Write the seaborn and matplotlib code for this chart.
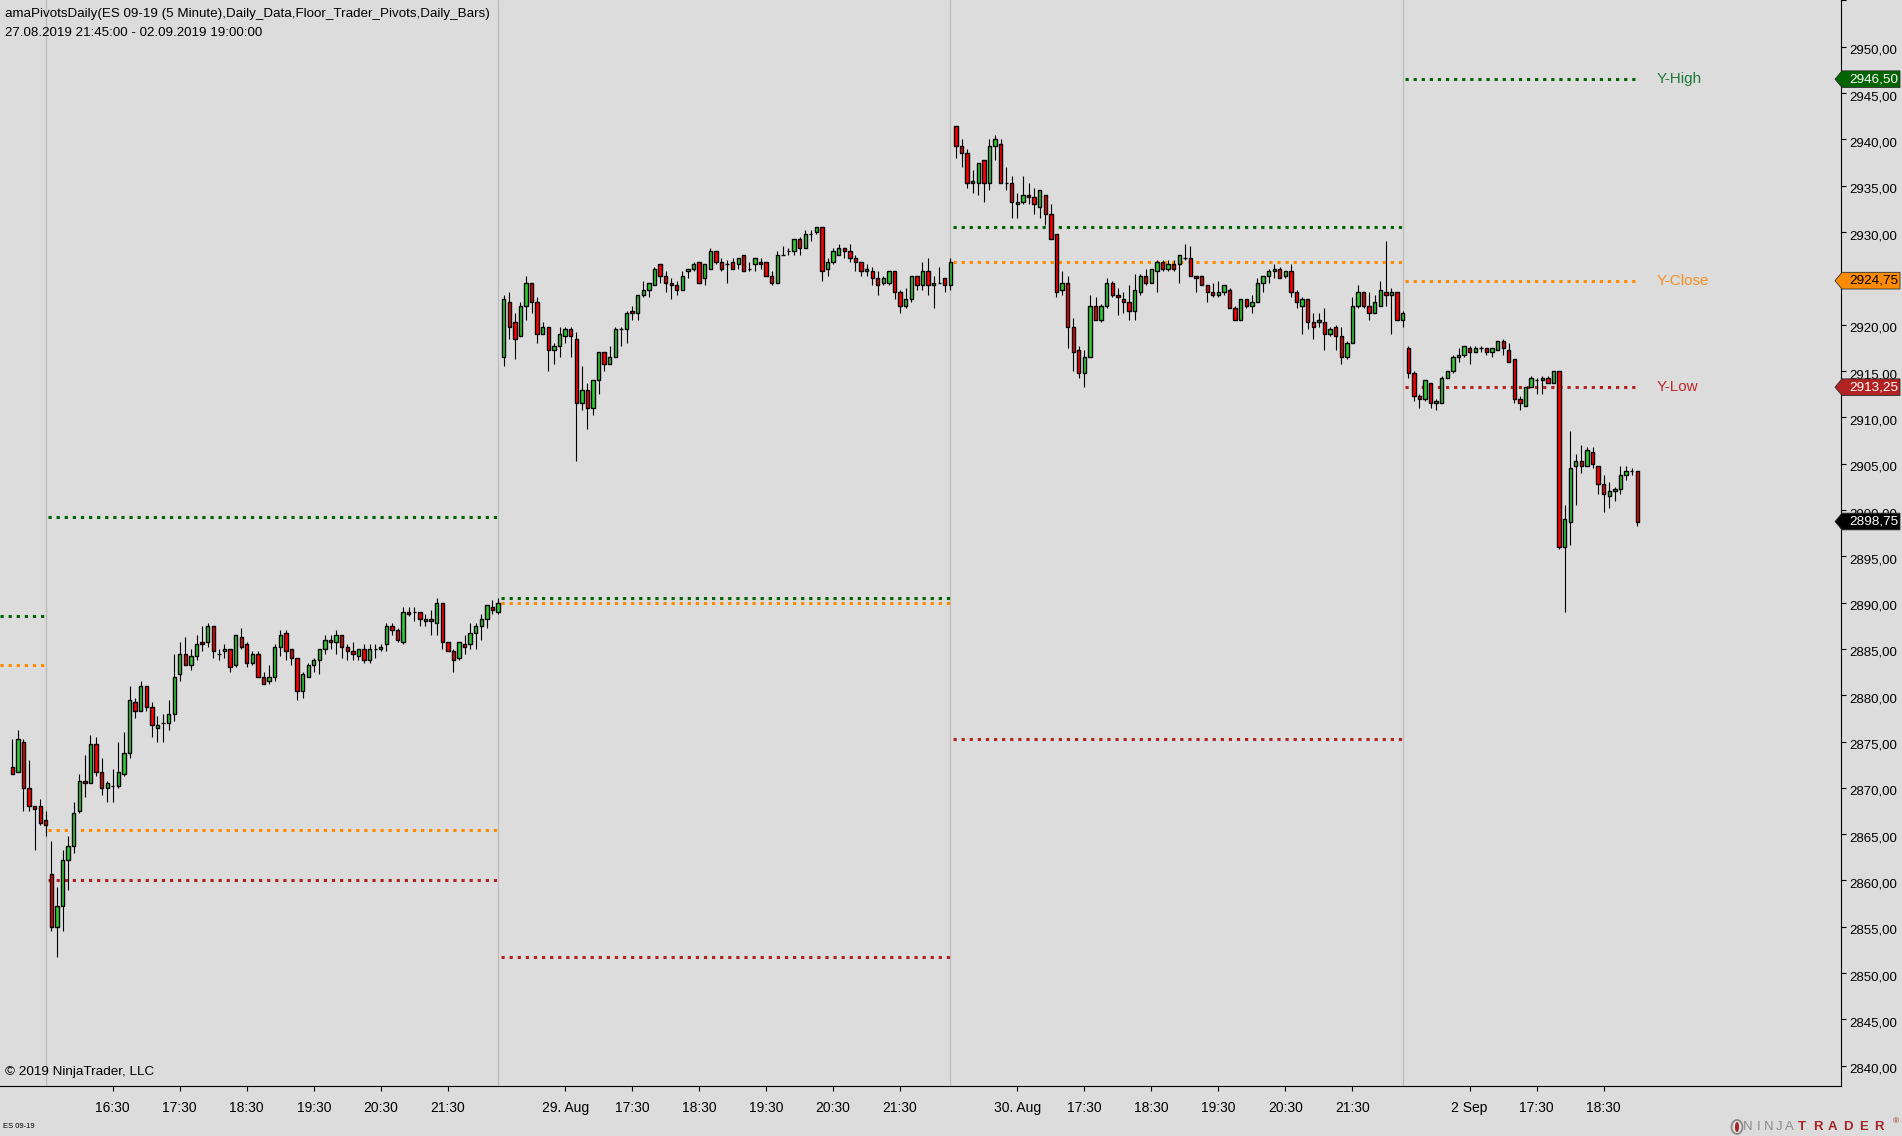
import numpy as np
import pandas as pd
import matplotlib
matplotlib.use("Agg")
import matplotlib.pyplot as plt
import seaborn as sns
from matplotlib import transforms as mtransforms
from matplotlib.patches import Polygon, Ellipse

# ---------------- DATA (ES 09-19, 5 minute bars) ----------------
session_starts = ["2019-08-27 21:45", "2019-08-28 15:35", "2019-08-29 15:35",
                  "2019-08-30 15:35", "2019-09-02 15:35"]

aug27_open  = [2872.25, 2871.75, 2875.0, 2870.0, 2868.0, 2868.0, 2866.5]
aug27_high  = [2875.25, 2876.25, 2875.25, 2873.0, 2868.0, 2868.75, 2867.5]
aug27_low   = [2871.5, 2871.75, 2867.5, 2867.5, 2863.25, 2866.0, 2864.75]
aug27_close = [2871.5, 2875.25, 2870.0, 2868.0, 2867.75, 2866.25, 2866.0]

aug28_open = [2860.75, 2855.0, 2857.25, 2862.25, 2863.75, 2867.5, 2870.75, 2870.5, 2874.75, 2871.75,
              2870.0, 2870.25, 2870.25, 2871.5, 2873.75, 2879.25, 2878.25, 2881.0, 2878.75, 2876.5,
              2877.0, 2877.0, 2878.0, 2882.25, 2884.5, 2883.25, 2884.25, 2885.75, 2885.75, 2887.5,
              2884.5, 2884.75, 2885.0, 2883.25, 2886.25, 2885.5, 2883.5, 2884.5, 2882.0, 2881.5,
              2882.0, 2885.25, 2886.75, 2885.0, 2884.0, 2880.5, 2882.0, 2883.25, 2883.75, 2885.0,
              2886.0, 2885.75, 2886.5, 2885.25, 2884.75, 2884.25, 2885.0, 2883.75, 2885.0, 2885.0,
              2885.5, 2887.5, 2887.0, 2885.75, 2889.0, 2889.0, 2889.0, 2888.0, 2888.25, 2887.75,
              2890.0, 2885.75, 2884.75, 2884.0, 2885.5, 2885.5, 2886.75, 2887.5, 2888.25, 2889.5,
              2889.0]
aug28_high = [2864.25, 2859.25, 2863.25, 2864.75, 2868.5, 2871.5, 2873.5, 2875.75, 2875.5, 2873.25,
              2870.75, 2872.0, 2875.0, 2876.0, 2881.0, 2879.75, 2881.5, 2881.0, 2879.25, 2877.75,
              2878.0, 2879.5, 2884.5, 2885.75, 2886.25, 2885.0, 2886.5, 2887.5, 2887.75, 2887.5,
              2885.0, 2885.5, 2885.0, 2886.5, 2887.25, 2885.75, 2884.75, 2884.75, 2882.5, 2883.25,
              2885.5, 2887.0, 2887.0, 2885.0, 2884.0, 2882.5, 2883.5, 2884.0, 2885.0, 2886.5,
              2886.5, 2887.0, 2886.5, 2885.5, 2885.75, 2885.0, 2885.5, 2885.5, 2885.5, 2885.5,
              2887.75, 2887.75, 2887.25, 2889.5, 2889.5, 2889.5, 2889.0, 2888.75, 2889.25, 2890.5,
              2890.0, 2885.75, 2885.0, 2885.75, 2886.5, 2887.75, 2887.75, 2888.75, 2889.75, 2890.25,
              2890.5]
aug28_low = [2854.5, 2851.75, 2854.5, 2859.0, 2863.0, 2867.25, 2869.0, 2870.5, 2871.25, 2869.25,
             2868.5, 2868.5, 2870.0, 2871.25, 2873.25, 2877.5, 2878.25, 2878.25, 2875.5, 2875.0,
             2875.0, 2876.25, 2877.25, 2881.5, 2883.25, 2882.75, 2883.75, 2884.75, 2885.25, 2884.0,
             2883.75, 2884.0, 2882.5, 2883.0, 2885.0, 2883.0, 2883.25, 2882.0, 2881.25, 2881.25,
             2881.5, 2884.25, 2883.75, 2883.25, 2879.5, 2879.75, 2882.0, 2882.5, 2882.25, 2884.5,
             2885.0, 2884.5, 2884.0, 2883.75, 2883.75, 2883.75, 2883.5, 2883.5, 2884.0, 2884.75,
             2884.75, 2886.5, 2885.75, 2885.5, 2888.5, 2888.0, 2887.5, 2887.5, 2886.5, 2886.5,
             2885.0, 2884.75, 2882.5, 2883.75, 2884.5, 2885.0, 2885.0, 2886.0, 2887.25, 2888.75,
             2888.75]
aug28_close = [2855.0, 2857.25, 2862.25, 2863.75, 2867.25, 2870.75, 2870.5, 2874.75, 2871.75, 2870.0,
               2870.5, 2870.25, 2871.75, 2873.75, 2879.5, 2878.25, 2881.0, 2878.75, 2876.75, 2876.75,
               2877.0, 2878.0, 2882.0, 2884.5, 2883.25, 2884.25, 2885.5, 2885.5, 2887.5, 2884.75,
               2884.5, 2885.0, 2883.0, 2886.5, 2885.25, 2883.5, 2884.5, 2882.0, 2881.25, 2882.0,
               2885.25, 2886.5, 2884.75, 2884.0, 2880.5, 2882.25, 2883.25, 2883.75, 2885.0, 2886.0,
               2885.75, 2886.5, 2885.25, 2884.75, 2884.5, 2885.0, 2883.75, 2885.0, 2885.0, 2885.25,
               2887.5, 2887.0, 2886.0, 2889.0, 2888.75, 2889.0, 2888.25, 2888.25, 2888.0, 2890.0,
               2885.75, 2884.75, 2883.75, 2885.75, 2885.25, 2886.75, 2887.5, 2888.25, 2889.75, 2889.25,
               2890.0]

aug29_open = [2916.5, 2922.5, 2920.25, 2918.75, 2922.0, 2924.5, 2922.5, 2919.0, 2919.75, 2917.25,
              2917.75, 2918.75, 2919.5, 2918.5, 2911.5, 2913.0, 2911.0, 2914.0, 2917.0, 2915.75,
              2916.5, 2919.5, 2919.5, 2921.5, 2921.25, 2923.25, 2923.75, 2924.25, 2926.5, 2925.25,
              2924.5, 2924.25, 2923.75, 2925.75, 2926.0, 2926.75, 2925.0, 2926.0, 2928.0, 2926.75,
              2926.5, 2926.75, 2926.5, 2927.5, 2926.0, 2926.5, 2926.75, 2926.75, 2925.25, 2924.5,
              2927.5, 2928.0, 2928.0, 2929.25, 2928.25, 2929.75, 2930.0, 2930.5, 2926.0, 2926.75,
              2927.5, 2928.25, 2928.0, 2927.25, 2926.75, 2925.75, 2925.75, 2925.0, 2924.5, 2924.5,
              2925.75, 2923.5, 2922.0, 2922.75, 2925.25, 2924.25, 2925.75, 2924.25, 2924.5, 2925.0,
              2924.25]
aug29_high = [2923.25, 2923.5, 2921.25, 2922.5, 2925.25, 2924.5, 2923.0, 2920.25, 2919.75, 2918.0,
              2919.75, 2919.75, 2919.75, 2919.25, 2915.5, 2913.75, 2914.0, 2917.0, 2917.0, 2917.75,
              2919.75, 2919.75, 2921.5, 2922.0, 2923.25, 2924.75, 2924.5, 2926.25, 2926.5, 2925.75,
              2925.0, 2924.75, 2925.75, 2926.0, 2926.75, 2926.75, 2926.5, 2928.25, 2928.0, 2927.25,
              2927.0, 2927.25, 2927.25, 2927.5, 2926.75, 2927.25, 2927.25, 2926.75, 2925.75, 2928.0,
              2928.5, 2928.25, 2929.25, 2929.5, 2930.25, 2930.25, 2930.5, 2930.5, 2927.25, 2928.25,
              2928.75, 2928.25, 2928.75, 2927.5, 2926.75, 2926.5, 2926.25, 2925.75, 2925.25, 2925.75,
              2925.75, 2923.75, 2924.0, 2925.25, 2925.25, 2926.75, 2927.25, 2925.25, 2926.25, 2925.0,
              2927.25]
aug29_low = [2915.5, 2918.5, 2916.25, 2918.75, 2920.5, 2921.25, 2918.0, 2919.0, 2915.0, 2915.75,
             2916.5, 2918.0, 2916.5, 2905.25, 2910.75, 2908.75, 2910.25, 2912.5, 2915.0, 2915.75,
             2916.5, 2917.75, 2918.0, 2920.5, 2920.5, 2923.0, 2923.0, 2924.25, 2924.5, 2923.5,
             2922.75, 2923.25, 2923.75, 2925.0, 2925.75, 2924.5, 2924.25, 2926.0, 2926.5, 2925.75,
             2924.5, 2926.0, 2926.0, 2925.75, 2925.75, 2925.75, 2926.0, 2925.25, 2924.25, 2924.5,
             2927.5, 2927.5, 2927.5, 2927.5, 2928.25, 2929.0, 2929.75, 2924.75, 2925.25, 2926.5,
             2927.5, 2927.25, 2926.75, 2925.75, 2925.25, 2925.25, 2924.25, 2923.25, 2924.25, 2924.25,
             2922.75, 2921.25, 2921.75, 2922.5, 2923.75, 2923.75, 2923.25, 2921.75, 2924.5, 2923.5,
             2923.75]
aug29_close = [2922.75, 2919.75, 2918.5, 2922.0, 2924.5, 2922.5, 2919.0, 2919.75, 2917.25, 2917.75,
               2919.0, 2919.5, 2918.75, 2911.5, 2913.0, 2911.0, 2914.0, 2917.0, 2915.75, 2916.5,
               2919.5, 2919.5, 2921.25, 2921.25, 2923.25, 2923.75, 2924.5, 2926.0, 2925.25, 2924.5,
               2924.25, 2923.75, 2925.25, 2926.0, 2926.5, 2924.5, 2926.5, 2928.0, 2926.75, 2926.0,
               2926.5, 2926.0, 2927.25, 2925.75, 2926.0, 2927.25, 2926.5, 2925.25, 2924.5, 2927.5,
               2927.5, 2928.0, 2929.25, 2928.25, 2929.75, 2929.75, 2930.5, 2925.75, 2926.75, 2928.0,
               2928.25, 2928.0, 2927.25, 2926.75, 2925.75, 2926.0, 2925.0, 2924.25, 2925.0, 2925.75,
               2923.5, 2922.0, 2922.75, 2925.25, 2924.25, 2925.75, 2924.25, 2924.5, 2924.5, 2924.25,
               2926.75]

aug30_open = [2941.5, 2939.25, 2938.5, 2935.25, 2935.25, 2937.75, 2935.25, 2939.25, 2939.5, 2935.25,
              2935.25, 2933.0, 2933.25, 2934.0, 2933.75, 2932.75, 2934.0, 2932.0, 2929.75, 2923.75,
              2924.5, 2919.75, 2917.25, 2914.75, 2916.5, 2922.0, 2920.5, 2922.0, 2924.5, 2923.25,
              2922.75, 2922.5, 2921.5, 2923.5, 2925.25, 2924.5, 2925.75, 2926.75, 2926.0, 2926.5,
              2926.5, 2927.25, 2927.25, 2925.25, 2925.25, 2924.25, 2923.5, 2923.25, 2923.5, 2923.75,
              2921.75, 2920.5, 2922.75, 2922.0, 2922.5, 2924.5, 2925.25, 2925.75, 2926.0, 2925.25,
              2925.75, 2923.5, 2922.0, 2922.75, 2920.25, 2920.25, 2920.25, 2919.0, 2919.75, 2918.75,
              2916.5, 2918.0, 2922.0, 2923.5, 2922.0, 2921.25, 2922.0, 2923.5, 2923.25, 2923.5,
              2920.5]
aug30_high = [2941.5, 2940.0, 2939.0, 2936.75, 2937.5, 2937.75, 2940.0, 2940.5, 2940.0, 2937.0,
              2936.0, 2934.25, 2936.0, 2935.25, 2934.75, 2934.5, 2934.0, 2933.0, 2929.75, 2925.75,
              2925.25, 2920.75, 2917.75, 2917.25, 2923.25, 2923.0, 2922.25, 2925.0, 2924.75, 2924.0,
              2923.5, 2924.25, 2925.5, 2925.5, 2926.0, 2926.0, 2927.0, 2927.0, 2927.0, 2927.0,
              2927.5, 2928.75, 2928.5, 2925.25, 2925.25, 2924.25, 2924.5, 2924.75, 2924.25, 2924.0,
              2922.0, 2922.75, 2922.75, 2923.25, 2925.0, 2925.25, 2926.0, 2926.5, 2926.25, 2925.75,
              2926.5, 2923.75, 2923.0, 2922.75, 2921.25, 2921.25, 2921.75, 2919.75, 2920.0, 2919.75,
              2918.25, 2923.0, 2924.25, 2923.5, 2923.5, 2923.25, 2924.75, 2929.0, 2924.0, 2923.5,
              2921.5]
aug30_low = [2938.0, 2937.0, 2934.75, 2934.25, 2934.0, 2933.25, 2934.5, 2937.75, 2935.25, 2934.5,
             2931.5, 2931.5, 2933.0, 2933.0, 2932.0, 2931.5, 2930.75, 2929.25, 2923.0, 2923.25,
             2917.5, 2915.0, 2914.25, 2913.25, 2916.5, 2920.5, 2920.25, 2921.75, 2923.0, 2921.0,
             2921.25, 2920.5, 2920.5, 2923.25, 2924.25, 2924.5, 2923.5, 2925.75, 2925.75, 2925.75,
             2924.5, 2927.0, 2925.25, 2923.5, 2924.25, 2922.5, 2923.0, 2923.0, 2923.25, 2921.75,
             2920.5, 2920.5, 2921.75, 2921.25, 2922.5, 2923.5, 2924.5, 2925.0, 2925.0, 2925.0,
             2923.0, 2921.75, 2919.0, 2919.5, 2918.5, 2919.75, 2917.25, 2918.75, 2917.25, 2915.75,
             2916.25, 2918.0, 2921.75, 2921.75, 2920.5, 2921.25, 2922.0, 2922.0, 2919.0, 2920.5,
             2919.75]
aug30_close = [2939.25, 2938.5, 2935.25, 2935.5, 2937.5, 2935.25, 2939.25, 2940.0, 2935.25, 2935.25,
               2933.25, 2933.25, 2934.0, 2933.75, 2933.0, 2934.5, 2932.0, 2929.25, 2923.5, 2924.5,
               2919.75, 2917.0, 2914.75, 2916.5, 2922.0, 2920.5, 2922.0, 2924.5, 2923.25, 2923.0,
               2922.5, 2921.5, 2923.75, 2925.25, 2924.5, 2926.0, 2926.75, 2926.0, 2926.5, 2926.0,
               2927.5, 2927.25, 2925.25, 2925.0, 2924.25, 2923.5, 2923.25, 2923.5, 2924.25, 2921.75,
               2920.5, 2922.75, 2922.0, 2922.5, 2924.5, 2925.25, 2925.75, 2926.0, 2925.0, 2925.75,
               2923.5, 2922.5, 2922.75, 2920.25, 2919.75, 2920.5, 2919.0, 2919.5, 2918.75, 2916.5,
               2918.0, 2922.0, 2923.5, 2922.0, 2921.25, 2922.5, 2923.75, 2923.25, 2923.5, 2920.5,
               2921.25]

sep02_open = [2917.5, 2914.75, 2912.25, 2912.0, 2913.75, 2911.5, 2911.5, 2914.25, 2915.0, 2916.5,
              2916.75, 2917.5, 2917.0, 2917.5, 2917.5, 2917.0, 2917.25, 2918.25, 2917.25, 2916.25,
              2912.0, 2911.25, 2913.25, 2914.0, 2914.0, 2914.25, 2913.75, 2915.0, 2896.0, 2898.75,
              2904.75, 2905.25, 2904.75, 2906.25, 2904.75, 2902.75, 2901.5, 2902.0, 2902.25, 2903.75,
              2904.25, 2904.25]
sep02_high = [2917.75, 2915.0, 2912.5, 2914.0, 2913.75, 2912.0, 2914.5, 2915.0, 2916.75, 2917.5,
              2917.75, 2917.75, 2917.75, 2917.75, 2917.5, 2917.5, 2918.25, 2918.5, 2918.0, 2916.25,
              2912.25, 2913.25, 2914.5, 2914.25, 2914.5, 2914.5, 2915.0, 2915.0, 2900.5, 2908.5,
              2906.0, 2907.0, 2906.75, 2906.75, 2904.75, 2903.75, 2903.0, 2902.5, 2904.75, 2904.75,
              2904.5, 2904.25]
sep02_low = [2914.25, 2911.75, 2911.0, 2911.75, 2911.0, 2910.75, 2911.5, 2914.25, 2914.75, 2916.0,
             2916.5, 2915.75, 2917.0, 2917.0, 2916.75, 2916.5, 2917.25, 2916.75, 2916.0, 2911.5,
             2910.75, 2911.25, 2913.25, 2912.5, 2912.5, 2913.75, 2913.75, 2895.75, 2889.0, 2896.25,
             2900.5, 2904.0, 2904.75, 2904.5, 2901.75, 2899.75, 2900.25, 2901.0, 2901.75, 2903.25,
             2903.75, 2898.25]
sep02_close = [2914.75, 2912.25, 2912.0, 2914.0, 2911.5, 2911.75, 2914.25, 2915.0, 2916.5, 2916.75,
               2917.75, 2917.0, 2917.5, 2917.5, 2917.0, 2917.5, 2918.25, 2917.5, 2916.0, 2912.0,
               2911.5, 2913.25, 2914.25, 2914.0, 2914.25, 2913.75, 2915.0, 2896.0, 2899.0, 2904.5,
               2905.25, 2904.75, 2906.5, 2905.0, 2902.75, 2901.75, 2902.0, 2902.25, 2903.75, 2904.25,
               2904.25, 2898.75]

# Floor trader pivots: previous day's high / close / low, one value per session
pivot_y_high  = [2888.5, 2899.25, 2890.5, 2930.5, 2946.5]
pivot_y_close = [2883.25, 2865.5, 2890.0, 2926.75, 2924.75]
pivot_y_low   = [np.nan, 2860.0, 2851.75, 2875.25, 2913.25]

xtick_times = ["2019-08-28 16:30", "2019-08-28 17:30", "2019-08-28 18:30", "2019-08-28 19:30",
               "2019-08-28 20:30", "2019-08-28 21:30",
               "2019-08-29 16:30", "2019-08-29 17:30", "2019-08-29 18:30", "2019-08-29 19:30",
               "2019-08-29 20:30", "2019-08-29 21:30",
               "2019-08-30 16:30", "2019-08-30 17:30", "2019-08-30 18:30", "2019-08-30 19:30",
               "2019-08-30 20:30", "2019-08-30 21:30",
               "2019-09-02 16:30", "2019-09-02 17:30", "2019-09-02 18:30"]
xtick_labels = ["16:30", "17:30", "18:30", "19:30", "20:30", "21:30",
                "29. Aug", "17:30", "18:30", "19:30", "20:30", "21:30",
                "30. Aug", "17:30", "18:30", "19:30", "20:30", "21:30",
                "2 Sep", "17:30", "18:30"]
ytick_values = list(range(2840, 2951, 5))

# ---------------- build table ----------------
sess_data = [
    (aug27_open, aug27_high, aug27_low, aug27_close),
    (aug28_open, aug28_high, aug28_low, aug28_close),
    (aug29_open, aug29_high, aug29_low, aug29_close),
    (aug30_open, aug30_high, aug30_low, aug30_close),
    (sep02_open, sep02_high, sep02_low, sep02_close),
]
frames = []
for si, (start, (o, h, l, c)) in enumerate(zip(session_starts, sess_data)):
    t = pd.date_range(start, periods=len(o), freq="5min")
    frames.append(pd.DataFrame({"time": t, "open": o, "high": h, "low": l,
                                "close": c, "session": si}))
df = pd.concat(frames, ignore_index=True)
df["x"] = np.arange(len(df))
df["up"] = df["close"] >= df["open"]

# ---------------- style ----------------
BG = "#DCDCDC"
sns.set_theme(style="white", rc={"axes.facecolor": BG, "figure.facecolor": BG,
                                 "axes.edgecolor": "black", "axes.linewidth": 0.8,
                                 "xtick.color": "black", "ytick.color": "black",
                                 "text.color": "black"})
plt.rcParams["font.family"] = ["Liberation Sans", "DejaVu Sans"]

W, H = 1902, 1136
fig = plt.figure(figsize=(W / 100, H / 100), dpi=100, facecolor=BG)
ax = fig.add_axes([0, 1 - 1086 / H, 1841 / W, 1086 / H])
ax.set_facecolor(BG)

XMIN, XMAX = -2.2, 327.5
ax.set_xlim(XMIN, XMAX)
ax.set_ylim(2837.81, 2955.05)

# session separators
for si in range(len(session_starts) - 1):
    last = df.loc[df.session == si, "x"].max()
    ax.axvline(last, color="#bcbcbc", lw=0.9, zorder=1)

# pivot lines
piv_colors = {"high": "#006400", "close": "#FF8C00", "low": "#B22222"}
dots = (0, (1.05, 1.6))
for si in range(len(session_starts)):
    xs = df.loc[df.session == si, "x"]
    x0 = XMIN if si == 0 else xs.min() - 0.55
    x1 = xs.max() + 0.05
    for key, arr in (("high", pivot_y_high), ("close", pivot_y_close), ("low", pivot_y_low)):
        v = arr[si]
        if np.isfinite(v):
            ax.hlines(v, x0, x1, colors=piv_colors[key], lw=2.2, linestyles=[dots], zorder=2)

# candles
ax.vlines(df.x, df.low, df.high, colors="black", lw=0.8, zorder=3)
bottom = np.minimum(df.open, df.close)
height = (df.close - df.open).abs()
fills = np.where(df.up, "#32CD32", "#FF0000")
ax.bar(df.x, height, bottom=bottom, width=0.6, color=fills, edgecolor="black",
       linewidth=1.0, zorder=4)

# axes styling
sns.despine(ax=ax, left=True, top=True, right=False, bottom=False)
ax.spines["right"].set_color("black")
ax.spines["bottom"].set_color("black")
ax.yaxis.tick_right()
ax.set_yticks(ytick_values)
ax.set_yticklabels([f"{v:.2f}".replace(".", ",") for v in ytick_values])
ax.set_yticks([2955], minor=True)
ax.tick_params(axis="y", which="both", right=True, left=False, labelright=True, labelleft=False,
               direction="out", length=3.6, width=0.8, pad=2.5, labelsize=9.5)
offset = mtransforms.ScaledTranslation(0, -2.6 / 100, fig.dpi_scale_trans)
for lab in ax.get_yticklabels():
    lab.set_transform(lab.get_transform() + offset)

tpos = [int(df.index[df.time == pd.Timestamp(t)][0]) for t in xtick_times]
ax.set_xticks(tpos)
ax.set_xticklabels(xtick_labels)
ax.tick_params(axis="x", bottom=True, direction="out", length=3.6, width=0.8, pad=7.0,
               labelsize=10)
ax.grid(False)

# pivot labels at right
lx = df.x.max() + 3.5
ax.text(lx, pivot_y_high[-1], "Y-High", color="#1f7a3a", fontsize=11, va="center", ha="left")
ax.text(lx, pivot_y_close[-1], "Y-Close", color="#F7901E", fontsize=11, va="center", ha="left")
ax.text(lx, pivot_y_low[-1], "Y-Low", color="#C0282D", fontsize=11, va="center", ha="left")

# price markers on the axis
trans = mtransforms.blended_transform_factory(fig.transFigure, ax.transData)
hh = 0.9
markers = [(pivot_y_high[-1], "#006400", "white"),
           (pivot_y_close[-1], "#FF8C00", "black"),
           (pivot_y_low[-1], "#B22222", "white"),
           (df.close.iloc[-1], "black", "white")]
for val, bg, fg in markers:
    pts = [(1835 / W, val), (1842 / W, val + hh), (1900 / W, val + hh),
           (1900 / W, val - hh), (1842 / W, val - hh)]
    poly = Polygon(pts, closed=True, transform=trans, facecolor=bg, edgecolor="#303030",
                   lw=0.6, clip_on=False, zorder=10)
    ax.add_patch(poly)
    ax.text(1849 / W, val, f"{val:.2f}".replace(".", ","), transform=trans, color=fg,
            fontsize=9.7, va="center", ha="left", clip_on=False, zorder=11)

# header text
fig.text(5 / W, 1 - 14 / H, "amaPivotsDaily(ES 09-19 (5 Minute),Daily_Data,Floor_Trader_Pivots,Daily_Bars)",
         fontsize=9.6, va="center", ha="left")
fig.text(5 / W, 1 - 33 / H, "27.08.2019 21:45:00 - 02.09.2019 19:00:00",
         fontsize=9.6, va="center", ha="left")
fig.text(5 / W, 1 - 1072 / H, "© 2019 NinjaTrader, LLC", fontsize=9.7, va="center", ha="left")
fig.text(3 / W, 1 - 1127 / H, "ES 09-19", fontsize=5.5, va="center", ha="left")

# NinjaTrader logo (bottom right)
fig.patches.append(Ellipse((1737 / W, 1 - 1127 / H), 11 / W, 14 / H, transform=fig.transFigure,
                           facecolor="none", edgecolor="#8a8a8a", lw=1.3))
fig.patches.append(Ellipse((1737 / W, 1 - 1127 / H), 4 / W, 10 / H, transform=fig.transFigure,
                           facecolor="#A3262A", edgecolor="none"))
for i, ch in enumerate("NINJA"):
    fig.text((1748 + i * 10.4) / W, 1 - 1127 / H, ch, fontsize=9.5, color="#8c8c8c",
             va="center", ha="center")
for i, ch in enumerate("TRADER"):
    fig.text((1802 + i * 15.4) / W, 1 - 1127 / H, ch, fontsize=9.5, color="#A3262A",
             fontweight="bold", va="center", ha="center")
fig.text(1893 / W, 1 - 1122 / H, "®", fontsize=6, color="#A3262A", va="center", ha="left")

fig.savefig("out.png", dpi=100, facecolor=BG)
